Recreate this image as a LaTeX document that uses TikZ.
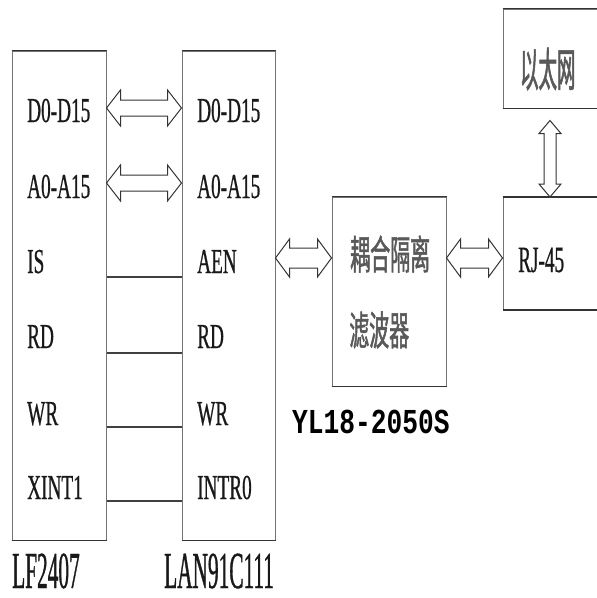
\documentclass[tikz,border=0pt]{standalone}
\usepackage{fontspec}
\usetikzlibrary{calc}
\newfontfamily\labfont[FakeStretch=0.55,FakeBold=0.6]{Liberation Serif}
\newfontfamily\bigfont[FakeStretch=0.41,FakeBold=0.6]{Liberation Serif}
\newfontfamily\rjfont[FakeStretch=0.52,FakeBold=0.6]{Liberation Serif}
\newfontfamily\monofont[FakeStretch=0.75]{Liberation Mono}
\newfontfamily\cjkfont[FakeStretch=0.5,FakeBold=1.2]{Noto Sans CJK SC}
\newfontfamily\cjkfontb[FakeStretch=0.4,FakeBold=1.2]{Noto Sans CJK SC}
\definecolor{txt}{gray}{0.1}
\definecolor{cjktxt}{gray}{0.35}
\definecolor{side}{gray}{0.45}
\definecolor{edge}{gray}{0.2}
\newcommand\hdarrow[5]{%
  \draw[dblarr] let \p1=(#1), \p2=(#2) in
    (\x1,\y1) -- (\x1+#3pt,\y1+#4pt) -- (\x1+#3pt,\y1+#5pt) -- (\x2-#3pt,\y1+#5pt)
    -- (\x2-#3pt,\y1+#4pt) -- (\x2,\y1) -- (\x2-#3pt,\y1-#4pt) -- (\x2-#3pt,\y1-#5pt)
    -- (\x1+#3pt,\y1-#5pt) -- (\x1+#3pt,\y1-#4pt) -- cycle;}
\newcommand\vdarrow[5]{%
  \draw[dblarr] let \p1=(#1), \p2=(#2) in
    (\x1,\y1) -- (\x1+#4pt,\y1-#3pt) -- (\x1+#5pt,\y1-#3pt) -- (\x1+#5pt,\y2+#3pt)
    -- (\x1+#4pt,\y2+#3pt) -- (\x1,\y2) -- (\x1-#4pt,\y2+#3pt) -- (\x1-#5pt,\y2+#3pt)
    -- (\x1-#5pt,\y1-#3pt) -- (\x1-#4pt,\y1-#3pt) -- cycle;}
\tikzset{
  box/.style={draw=side, line width=1pt, rectangle, inner sep=0pt, fill=white},
  boxedge/.style={draw=edge, line width=1.6pt},
  lab/.style={anchor=base west, inner sep=0pt, text=txt, font=\labfont\fontsize{35}{35}\selectfont},
  biglab/.style={anchor=base west, inner sep=0pt, text=txt, font=\bigfont\fontsize{52}{52}\selectfont},
  cjk/.style={anchor=west, inner sep=0pt, text=cjktxt, font=\cjkfont\fontsize{40}{40}\selectfont},
  dblarr/.style={draw=black!80, line width=1pt, fill=white, line join=miter},
  wire/.style={draw=black!75, line width=1.3pt}
}
\begin{document}
\begin{tikzpicture}[x=1pt,y=-1pt]
\useasboundingbox (0,0) rectangle (597,598);
\fill[white] (0,0) rectangle (597,598);
\clip (0,0) rectangle (597,598);
% boxes
\node[box, minimum width=94pt, minimum height=489pt] (lf) at (59,295.5) {};
\node[box, minimum width=93pt, minimum height=489pt] (lan) at (228.5,295.5) {};
\node[box, minimum width=114pt, minimum height=189pt] (cpl) at (389,291.5) {};
\node[box, minimum width=96pt, minimum height=112pt] (rj) at (551,253.5) {};
\node[box, minimum width=96pt, minimum height=99pt] (eth) at (551,58.5) {};
\foreach \b in {lf,lan,cpl,rj,eth}{
  \draw[boxedge] (\b.north west) -- (\b.north east);
  \draw[boxedge] (\b.south west) -- (\b.south east);
}
% LF2407 labels
\node[lab] (l1) at (27,122) {D0-D15};
\node[lab] (l2) at (27,198) {A0-A15};
\node[lab] (l3) at (27,273) {IS};
\node[lab] (l4) at (27,348) {RD};
\node[lab] (l5) at (27,425) {WR};
\node[lab] (l6) at (27,499) {XINT1};
% LAN91C111 labels
\node[lab] (r1) at (197,122) {D0-D15};
\node[lab] (r2) at (197,198) {A0-A15};
\node[lab] (r3) at (197,273) {AEN};
\node[lab] (r4) at (197,348) {RD};
\node[lab] (r5) at (197,425) {WR};
\node[lab] (r6) at (197,499) {INTR0};
% chip names
\node[biglab] (n1) at (12,588) {LF2407};
\node[biglab] (n2) at (164,588) {LAN91C111};
% coupling box text
\node[cjk] (c1) at (350,254) {耦合隔离};
\node[cjk] (c2) at (349,330) {滤波器};
\node[anchor=base west, inner sep=0pt, text=black, font=\monofont\bfseries\fontsize{35}{35}\selectfont] (yl) at (292,433) {YL18-2050S};
\node[anchor=base west, inner sep=0pt, text=txt, font=\rjfont\fontsize{37}{37}\selectfont] (rjt) at (518,272) {RJ-45};
\node[cjk, font=\cjkfontb\fontsize{46}{46}\selectfont] (e1) at (520,69) {以太网};
% wires
\foreach \yy in {277,353,427,501}{
  \draw[wire] (lf.east |- 0,\yy) -- (lan.west |- 0,\yy);
}
% double arrows
\hdarrow{lf.east |- 0,108}{lan.west |- 0,108}{14}{18}{8}
\hdarrow{lf.east |- 0,183}{lan.west |- 0,183}{14}{18}{8}
\hdarrow{lan.east |- 0,258}{cpl.west |- 0,258}{14}{19}{10}
\hdarrow{cpl.east |- 0,258}{rj.west |- 0,258}{14}{19}{10}
\vdarrow{$(eth.south)+(-1,12)$}{$(rj.north)+(-1,0)$}{13}{11}{6}
\end{tikzpicture}
\end{document}
